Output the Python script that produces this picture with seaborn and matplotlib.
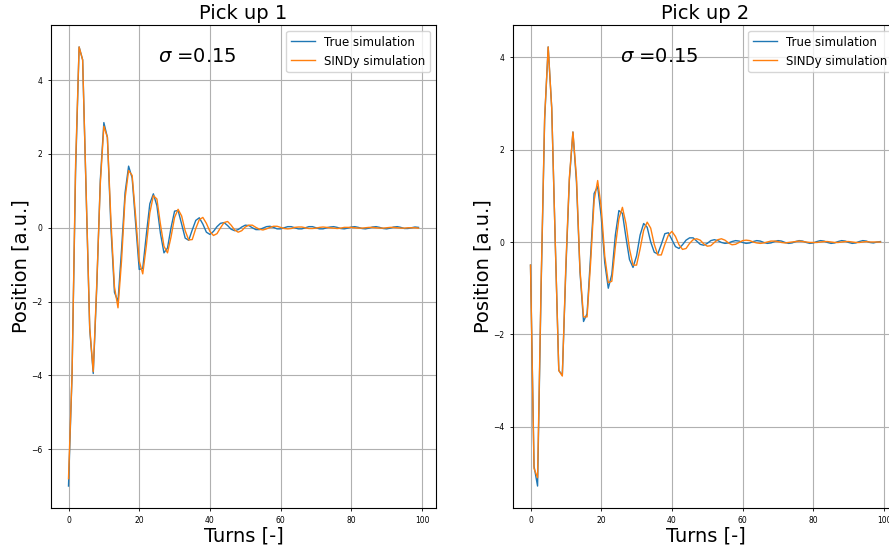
import matplotlib
matplotlib.use("Agg")
import matplotlib.pyplot as plt
import seaborn as sns
import numpy as np

turns = list(range(100))

true_pickup1 = [
    -7.0, -4.0, 1.5, 4.9, 4.55, 0.9, -2.75, -3.95, -1.6, 1.3,
    2.85, 2.45, 0.0, -1.75, -2.0, -0.6, 0.95, 1.67, 1.35, 0.1,
    -1.13, -1.1, -0.2, 0.65, 0.92, 0.6, -0.15, -0.68, -0.55, 0.0,
    0.45, 0.47, 0.1, -0.28, -0.34, -0.06, 0.2, 0.27, 0.1, -0.12,
    -0.18, -0.1, 0.03, 0.12, 0.14, 0.06, -0.04, -0.08, -0.05, 0.02,
    0.07, 0.06, 0.0, -0.05, -0.05, -0.01, 0.03, 0.04, 0.01, -0.03,
    -0.03, 0.0, 0.03, 0.03, 0.0, -0.03, -0.03, 0.0, 0.03, 0.03,
    0.0, -0.03, -0.03, 0.0, 0.02, 0.03, 0.01, -0.02, -0.03, -0.01,
    0.02, 0.03, 0.01, -0.02, -0.03, -0.01, 0.02, 0.03, 0.01, -0.02,
    -0.03, -0.01, 0.02, 0.03, 0.01, -0.02, -0.02, 0.0, 0.02, 0.01,
]
sindy_pickup1 = [
    -6.8, -4.0, 1.7, 4.9, 4.55, 0.95, -2.7, -3.9, -1.5, 1.2,
    2.75, 2.45, 0.2, -1.6, -2.17, -0.9, 0.8, 1.55, 1.42, 0.3,
    -0.9, -1.25, -0.5, 0.4, 0.87, 0.78, 0.1, -0.5, -0.68, -0.25,
    0.28, 0.5, 0.32, -0.08, -0.33, -0.32, -0.02, 0.22, 0.28, 0.12,
    -0.1, -0.21, -0.16, 0.0, 0.14, 0.17, 0.07, -0.06, -0.12, -0.08,
    0.02, 0.07, 0.07, 0.01, -0.04, -0.06, -0.03, 0.01, 0.04, 0.04,
    0.01, -0.02, -0.03, -0.02, 0.01, 0.02, 0.02, 0.0, -0.02, -0.02,
    -0.01, 0.01, 0.02, 0.01, 0.0, -0.01, -0.02, -0.01, 0.01, 0.01,
    0.01, 0.0, -0.01, -0.01, 0.0, 0.01, 0.01, 0.0, -0.01, -0.01,
    0.0, 0.01, 0.01, 0.0, -0.01, -0.01, 0.0, 0.0, 0.0, -0.01,
]
true_pickup2 = [
    -0.5, -4.85, -5.28, -1.0, 2.65, 4.22, 2.9, 0.0, -2.78, -2.88,
    -0.6, 1.35, 2.38, 1.3, -0.65, -1.72, -1.55, -0.3, 1.05, 1.2,
    0.55, -0.45, -1.0, -0.7, 0.15, 0.68, 0.62, 0.1, -0.38, -0.55,
    -0.3, 0.15, 0.4, 0.32, 0.0, -0.22, -0.26, -0.05, 0.18, 0.2,
    0.05, -0.1, -0.14, -0.06, 0.04, 0.09, 0.09, 0.02, -0.05, -0.07,
    -0.03, 0.03, 0.05, 0.03, -0.01, -0.03, -0.02, 0.01, 0.03, 0.02,
    -0.01, -0.03, -0.02, 0.01, 0.03, 0.02, -0.01, -0.03, -0.02, 0.01,
    0.03, 0.02, -0.01, -0.03, -0.02, 0.01, 0.03, 0.02, -0.01, -0.03,
    -0.02, 0.01, 0.03, 0.02, -0.01, -0.03, -0.02, 0.01, 0.03, 0.02,
    -0.01, -0.03, -0.02, 0.01, 0.03, 0.02, -0.01, -0.02, 0.0, 0.01,
]
sindy_pickup2 = [
    -0.5, -4.9, -5.1, -0.9, 2.7, 4.22, 2.9, 0.0, -2.78, -2.9,
    -0.5, 1.4, 2.38, 1.4, -0.6, -1.62, -1.62, -0.45, 0.9, 1.33,
    0.75, -0.3, -0.88, -0.85, -0.1, 0.5, 0.75, 0.4, -0.15, -0.5,
    -0.5, -0.15, 0.25, 0.43, 0.3, -0.05, -0.28, -0.28, -0.05, 0.15,
    0.23, 0.12, -0.06, -0.16, -0.14, -0.03, 0.05, 0.07, 0.04, -0.04,
    -0.09, -0.08, -0.01, 0.05, 0.07, 0.04, -0.02, -0.06, -0.05, -0.01,
    0.03, 0.04, 0.03, 0.0, -0.02, -0.03, -0.02, 0.0, 0.02, 0.02,
    0.01, -0.01, -0.02, -0.01, 0.0, 0.01, 0.02, 0.01, 0.0, -0.01,
    -0.01, -0.01, 0.0, 0.01, 0.01, 0.0, -0.01, -0.01, 0.0, 0.01,
    0.01, 0.0, -0.01, -0.01, 0.0, 0.01, 0.0, 0.0, 0.0, 0.0,
]

titles = ["Pick up 1", "Pick up 2"]
series_labels = ["True simulation", "SINDy simulation"]
sigma_text = r"$\sigma$ =0.15"

fig = plt.figure(figsize=(8.89, 5.5), dpi=100)
W, H = 889, 550
axes_px = [(51, 25, 385, 483), (513, 25, 385, 483)]
data = [(true_pickup1, sindy_pickup1), (true_pickup2, sindy_pickup2)]

for (x0, y0, w, h), title, (tr, sd) in zip(axes_px, titles, data):
    ax = fig.add_axes([x0 / W, 1 - (y0 + h) / H, w / W, h / H])
    sns.lineplot(x=turns, y=tr, ax=ax, color="#1f77b4", linewidth=1.0,
                 label=series_labels[0])
    sns.lineplot(x=turns, y=sd, ax=ax, color="#ff7f0e", linewidth=1.0,
                 label=series_labels[1])
    ax.set_title(title, fontsize=14, pad=4)
    ax.set_xlabel("Turns [-]", fontsize=14, labelpad=1)
    ax.set_ylabel("Position [a.u.]", fontsize=14, labelpad=1)
    ax.grid(True, color="#b0b0b0", linewidth=0.8)
    ax.tick_params(labelsize=5.5, length=2.5, width=0.6)
    ax.set_xticks([0, 20, 40, 60, 80, 100])
    ax.text(0.38, 0.935, sigma_text, transform=ax.transAxes, fontsize=14,
            ha="center", va="center")
    ax.legend(loc="upper right", fontsize=8.5)
    ax.set_xlim(-4.95, 103.95)

fig.savefig("out.png", dpi=100)
